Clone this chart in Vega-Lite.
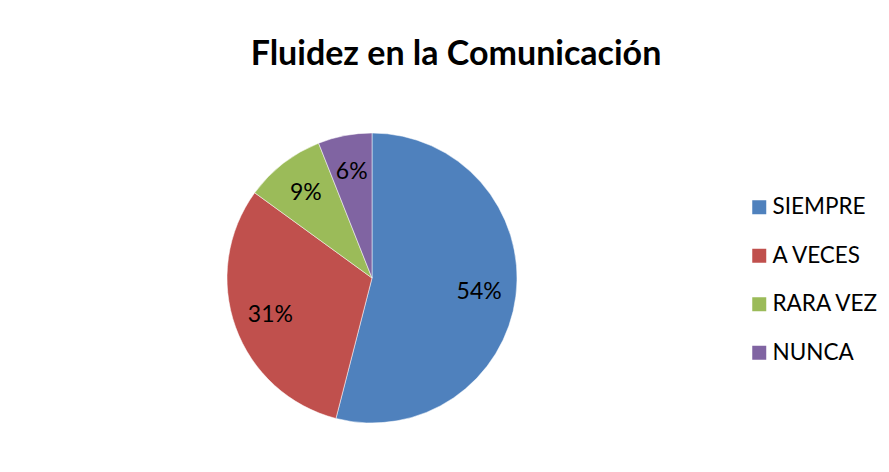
{
  "$schema": "https://vega.github.io/schema/vega-lite/v6.json",
  "autosize": {"type": "none"},
  "width": 290,
  "height": 290,
  "padding": {"left": 227, "top": 133, "right": 372, "bottom": 49},
  "background": "white",
  "config": {"view": {"stroke": null}, "font": "Lato"},
  "title": {
    "text": "Fluidez en la Comunicación",
    "font": "Lato",
    "fontSize": 34,
    "fontWeight": "bold",
    "color": "#000000",
    "anchor": "middle",
    "dx": 84,
    "offset": 60
  },
  "data": {
    "values": [
      {"categoria": "SIEMPRE", "valor": 0.54},
      {"categoria": "A VECES", "valor": 0.31},
      {"categoria": "RARA VEZ", "valor": 0.09},
      {"categoria": "NUNCA", "valor": 0.06}
    ]
  },
  "encoding": {
    "theta": {"field": "valor", "type": "quantitative", "stack": true},
    "order": {"field": "valor", "sort": "descending"},
    "color": {
      "field": "categoria",
      "type": "nominal",
      "scale": {
        "domain": ["SIEMPRE", "A VECES", "RARA VEZ", "NUNCA"],
        "range": ["#4F81BD", "#C0504D", "#9BBB59", "#8064A2"]
      },
      "legend": {
        "title": null,
        "orient": "none",
        "legendX": 521,
        "legendY": 63,
        "symbolType": "square",
        "symbolSize": 196,
        "symbolStrokeWidth": 0,
        "labelFont": "Lato",
        "labelFontSize": 22.5,
        "labelColor": "#000000",
        "labelOffset": 2,
        "rowPadding": 25.5
      }
    }
  },
  "layer": [
    {
      "mark": {"type": "arc", "outerRadius": 145, "stroke": "white", "strokeWidth": 0.5}
    },
    {
      "mark": {"type": "text", "radius": 108, "font": "Lato", "fontSize": 23, "color": "#000000"},
      "encoding": {
        "text": {"field": "valor", "type": "quantitative", "format": ".0%"},
        "color": {"value": "#000000"}
      }
    }
  ]
}
